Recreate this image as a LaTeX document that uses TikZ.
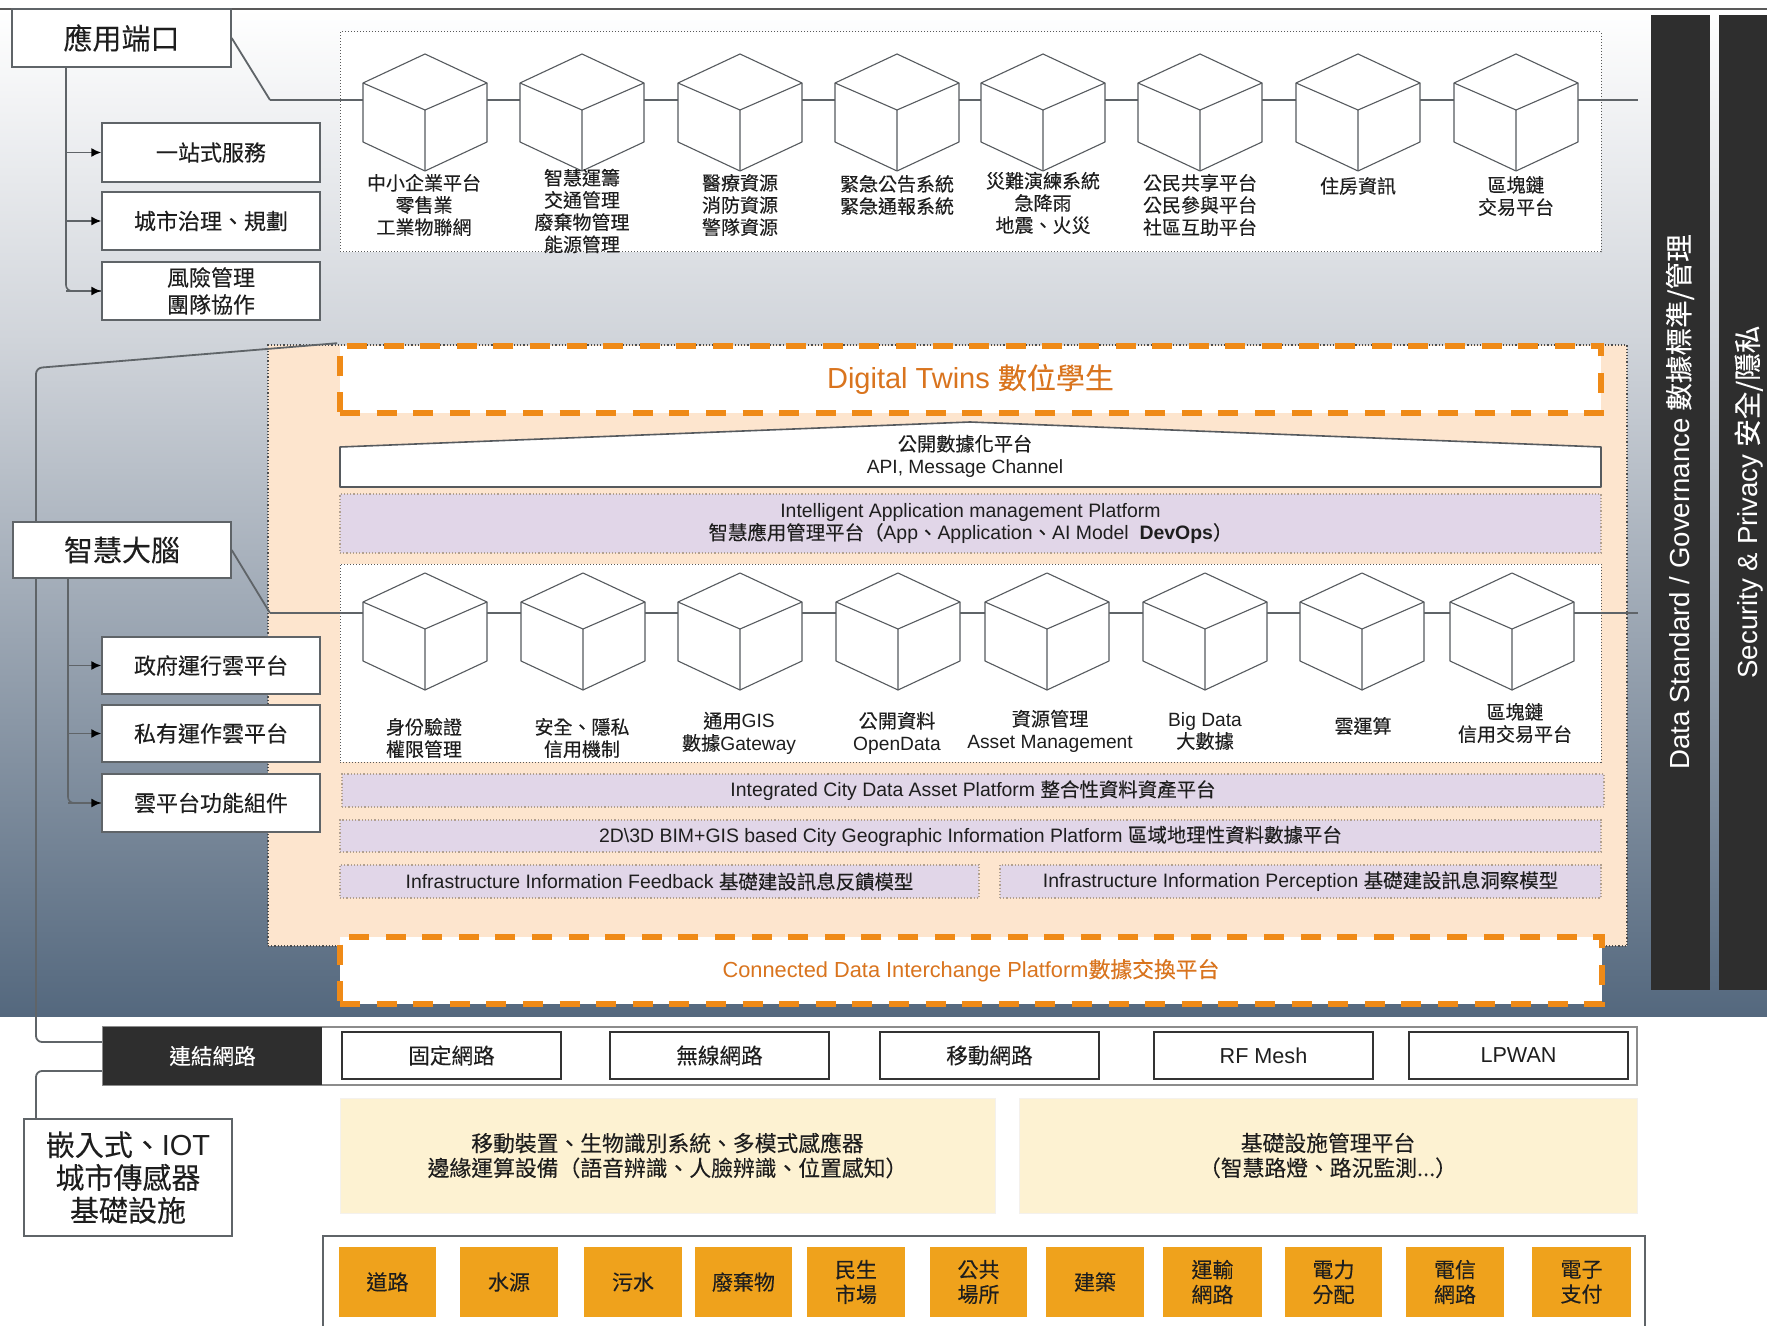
\documentclass[tikz,border=0pt]{standalone}
\usepackage{fontspec}
\setmainfont{Liberation Sans}
\newfontfamily\zhf[FakeBold=0.12]{Noto Sans CJK TC}
\newcommand\zh[1]{{\zhf #1}}
\usetikzlibrary{arrows.meta}
\definecolor{panelor}{HTML}{FDE5CE}
\definecolor{dashor}{HTML}{EF8A17}
\definecolor{txtor}{HTML}{D9741E}
\definecolor{lilac}{HTML}{E1D6E8}
\definecolor{cream}{HTML}{FDF2D2}
\definecolor{darkbar}{HTML}{2E2E2E}
\definecolor{infor}{HTML}{EFA21C}
\definecolor{linegr}{HTML}{5F6468}
\definecolor{ink}{HTML}{1E1E1E}
\tikzset{
  x=0.5pt,y=-0.5pt,
  lab/.style={text=ink,align=center,font=\zhf\fontsize{9.5}{11.1}\selectfont,inner sep=0pt},
  mixlab/.style={text=ink,align=center,font=\fontsize{9.6}{11.1}\selectfont,inner sep=0pt},
  wbox/.style={draw=linegr,line width=0.7pt,fill=white,text=ink,align=center},
  sidebox/.style={wbox,font=\zhf\fontsize{11}{13.5}\selectfont},
  headbox/.style={wbox,font=\zhf\fontsize{14.5}{16.4}\selectfont},
  netbox/.style={draw=black!80,line width=0.6pt,fill=white,text=ink,font=\fontsize{10.8}{12.5}\selectfont},
  dotbox/.style={draw=black!65,line width=0.5pt,densely dotted,fill=white},
  lilacbox/.style={fill=lilac,draw=black!30!panelor,line width=0.6pt,densely dotted,text=ink,align=center,font=\fontsize{9.72}{11.2}\selectfont},
  orbox/.style={fill=white,draw=dashor,line width=2.8pt,dash pattern=on 10pt off 8.3pt,text=txtor,align=center},
  creambox/.style={fill=cream,draw=panelor!80!black!20,line width=0.4pt,text=ink,align=center,font=\zhf\fontsize{10.9}{12.4}\selectfont},
  infbox/.style={fill=infor,text=ink,align=center,font=\zhf\fontsize{10.5}{12.4}\selectfont},
  barbox/.style={fill=darkbar,text=white},
  conn/.style={draw=linegr,line width=1.1pt,rounded corners=3pt},
  branch/.style={draw=linegr,line width=0.8pt,rounded corners=2pt,-{Latex[length=5pt,width=4.5pt,black]}},
  cubeline/.style={draw=linegr!90!black,line width=0.55pt,line join=round},
}
\newcommand\pxbox[7]{%
  \pgfmathsetmacro\pxw{(#5-#3)*0.5}%
  \pgfmathsetmacro\pxh{(#6-#4)*0.5}%
  \pgfmathsetmacro\pxcx{(#3+#5)/2}%
  \pgfmathsetmacro\pxcy{(#4+#6)/2}%
  \node[#2,minimum width=\pxw pt,minimum height=\pxh pt,inner sep=0pt] (#1) at (\pxcx,\pxcy) {#7};}
\newcommand\cubeat[2]{%
  \begin{scope}[shift={(#1,#2)}]
    \draw[cubeline,fill=white] (0,0) -- (62,29) -- (62,88) -- (0,117) -- (-62,88) -- (-62,29) -- cycle;
    \draw[cubeline] (-62,29) -- (0,56) -- (62,29) (0,56) -- (0,117);
  \end{scope}}
\begin{document}
\begin{tikzpicture}
\useasboundingbox (0,0) rectangle (1767,1326);
\fill[white] (0,0) rectangle (1767,1326);
% background
\shade[top color=white,bottom color={rgb,255:red,208;green,212;blue,218}] (0,9) rectangle (1767,341);
\shade[top color={rgb,255:red,208;green,212;blue,218},bottom color={rgb,255:red,84;green,104;blue,126}] (0,340) rectangle (1767,1016);
\draw[black!65,line width=0.8pt] (0,9) -- (1767,9);

% top application panel
\pxbox{toppanel}{dotbox}{340}{32}{1601}{252}{}
% big panel
\pxbox{midpanel}{draw=black!70,line width=0.6pt,densely dotted,fill=panelor}{268}{345}{1627}{946}{}

% side bars
\pxbox{barA}{barbox}{1651}{15}{1710}{990}{}
\pxbox{barB}{barbox}{1719}{15}{1770}{990}{}
\node[text=white,rotate=90,font=\fontsize{13.8}{16}\selectfont,inner sep=0pt] (barAt) at (1680,502) {Data Standard / Governance \zh{數據標準/管理}};
\node[text=white,rotate=90,font=\fontsize{13.8}{16}\selectfont,inner sep=0pt] (barBt) at (1749,502) {Security \& Privacy \zh{安全/隱私}};

% named anchors for the two cube rows
\foreach \n/\x in {1/425,2/582,3/740,4/897,5/1043,6/1200,7/1358,8/1516} {\coordinate (u\n) at (\x,100);}
\foreach \n/\x in {1/425,2/583,3/740,4/898,5/1047,6/1205,7/1362,8/1512} {\coordinate (v\n) at (\x,613);}
\coordinate (uend) at (1638,100);
\coordinate (vend) at (1638,613);
\coordinate (ubend) at (270,100);
\coordinate (vbend) at (270,613);
\coordinate (loopA) at (36,368);
\coordinate (loopB) at (36,1042);
\coordinate (netA) at (103,1042);
\coordinate (loopC) at (36,1071);
\coordinate (netB) at (103,1071);

% white and lilac bars
\pxbox{dt}{orbox,font=\fontsize{14.5}{17}\selectfont}{340}{346}{1601}{413}{\raisebox{-1pt}{Digital Twins \zh{數位學生}}}
\draw[cubeline,fill=white,line width=0.8pt] (340,447) -- (970,422) -- (1601,447) -- (1601,487) -- (340,487) -- cycle;
\node[mixlab] (api) at (965,456) {\zh{公開數據化平台}\\API, Message Channel};
\pxbox{iamp}{lilacbox}{340}{494}{1601}{553}{Intelligent Application management Platform\\\zh{智慧應用管理平台（}App\zh{、}Application\zh{、}AI Model\ \ \textbf{DevOps}\zh{）}}
\pxbox{botpanel}{dotbox}{340}{564}{1601}{762}{}
\pxbox{icda}{lilacbox}{342}{774}{1604}{807}{Integrated City Data Asset Platform \zh{整合性資料資產平台}}
\pxbox{bim}{lilacbox}{340}{820}{1601}{852}{2D\textbackslash3D BIM+GIS based City Geographic Information Platform \zh{區域地理性資料數據平台}}
\pxbox{feed}{lilacbox}{340}{865}{979}{898}{Infrastructure Information Feedback \zh{基礎建設訊息反饋模型}}
\pxbox{perc}{lilacbox}{1000}{865}{1601}{898}{Infrastructure Information Perception \zh{基礎建設訊息洞察模型}}
\pxbox{cdip}{orbox,font=\fontsize{10.9}{13}\selectfont}{340}{937}{1602}{1004}{Connected Data Interchange Platform\zh{數據交換平台}}

% connectors
\path[conn] (ubend) -- (u1) -- (u2) -- (u3) -- (u4) -- (u5) -- (u6) -- (u7) -- (u8) -- (uend);
\path[conn] (vbend) -- (v1) -- (v2) -- (v3) -- (v4) -- (v5) -- (v6) -- (v7) -- (v8) -- (vend);

% cubes
\foreach \x in {425,582,740,897,1043,1200,1358,1516} {\cubeat{\x}{54}}
\foreach \x in {425,583,740,898,1047,1205,1362,1512} {\cubeat{\x}{573}}

% cube labels, top row
\node[lab] (lu1) at (424,205) {中小企業平台\\零售業\\工業物聯網};
\node[lab] (lu2) at (582,211) {智慧運籌\\交通管理\\廢棄物管理\\能源管理};
\node[lab] (lu3) at (740,205) {醫療資源\\消防資源\\警隊資源};
\node[lab] (lu4) at (897,195) {緊急公告系統\\緊急通報系統};
\node[lab] (lu5) at (1043,203) {災難演練系統\\急降雨\\地震、火災};
\node[lab] (lu6) at (1200,205) {公民共享平台\\公民參與平台\\社區互助平台};
\node[lab] (lu7) at (1358,186) {住房資訊};
\node[lab] (lu8) at (1516,196) {區塊鏈\\交易平台};
% cube labels, bottom row
\node[lab] (lv1) at (424,738) {身份驗證\\權限管理};
\node[lab] (lv2) at (582,738) {安全、隱私\\信用機制};
\node[mixlab] (lv3) at (739,733) {\zh{通用}GIS\\\zh{數據}Gateway};
\node[mixlab] (lv4) at (897,733) {\zh{公開資料}\\OpenData};
\node[mixlab] (lv5) at (1050,731) {\zh{資源管理}\\Asset Management};
\node[mixlab] (lv6) at (1205,731) {Big Data\\\zh{大數據}};
\node[lab] (lv7) at (1363,726) {雲運算};
\node[lab] (lv8) at (1515,723) {區塊鏈\\信用交易平台};

% left side: connectors then boxes
\path[conn,line width=0.9pt] (dt.north west) -- (loopA) -- (loopB) -- (netA);
\path[conn,line width=0.9pt] (netB) -- (loopC) -- (36,1119);
\pxbox{app}{headbox}{12}{9}{231}{67}{應用端口}
\pxbox{brain}{headbox}{13}{522}{231}{578}{智慧大腦}
\path[conn,line width=0.9pt] (app.east) -- (ubend);
\path[conn,line width=0.9pt] (brain.east) -- (vbend);
\coordinate (appdrop) at (66,67);
\coordinate (braindrop) at (68,578);
\pxbox{s1}{sidebox}{102}{123}{320}{182}{一站式服務}
\pxbox{s2}{sidebox}{102}{192}{320}{250}{城市治理、規劃}
\pxbox{s3}{sidebox}{102}{262}{320}{320}{風險管理\\團隊協作}
\pxbox{g1}{sidebox}{102}{637}{320}{694}{政府運行雲平台}
\pxbox{g2}{sidebox}{102}{705}{320}{762}{私有運作雲平台}
\pxbox{g3}{sidebox}{102}{774}{320}{832}{雲平台功能組件}
\draw[conn,line width=0.8pt] (appdrop) |- (s3.west);
\path[branch] (appdrop |- s1.west) -- (s1.west);
\path[branch] (appdrop |- s2.west) -- (s2.west);
\path[branch] (appdrop |- s3.west) -- (s3.west);
\draw[conn,line width=0.8pt] (braindrop) |- (g3.west);
\path[branch] (braindrop |- g1.west) -- (g1.west);
\path[branch] (braindrop |- g2.west) -- (g2.west);
\path[branch] (braindrop |- g3.west) -- (g3.west);

% network row
\pxbox{netframe}{draw=black!45,line width=0.9pt,fill=white}{103}{1027}{1637}{1085}{}
\pxbox{net}{fill=darkbar,text=white,font=\zhf\fontsize{10.8}{12}\selectfont}{103}{1027}{322}{1085}{連結網路}
\pxbox{n1}{netbox}{342}{1032}{561}{1079}{\zh{固定網路}}
\pxbox{n2}{netbox}{610}{1032}{829}{1079}{\zh{無線網路}}
\pxbox{n3}{netbox}{880}{1032}{1099}{1079}{\zh{移動網路}}
\pxbox{n4}{netbox}{1154}{1032}{1373}{1079}{RF Mesh}
\pxbox{n5}{netbox}{1409}{1032}{1628}{1079}{LPWAN}

% cream boxes
\pxbox{y1}{creambox}{340}{1098}{995}{1213}{移動裝置、生物識別系統、多模式感應器\\邊緣運算設備（語音辨識、人臉辨識、位置感知）}
\pxbox{y2}{creambox}{1019}{1098}{1637}{1213}{基礎設施管理平台\\（智慧路燈、路況監測...）}

% iot box
\pxbox{iot}{wbox,font=\fontsize{14.5}{16.4}\selectfont}{24}{1119}{232}{1236}{\zh{嵌入式、}IOT\\\zh{城市傳感器}\\\zh{基礎設施}}

% infrastructure frame, open at the bottom edge
\draw[linegr,line width=0.9pt] (323,1326) -- (323,1236) -- (1645,1236) -- (1645,1326);
\pxbox{o1}{infbox}{339}{1247}{436}{1317}{道路}
\pxbox{o2}{infbox}{460}{1247}{558}{1317}{水源}
\pxbox{o3}{infbox}{584}{1247}{682}{1317}{污水}
\pxbox{o4}{infbox}{695}{1247}{792}{1317}{廢棄物}
\pxbox{o5}{infbox}{807}{1247}{905}{1317}{民生\\市場}
\pxbox{o6}{infbox}{930}{1247}{1027}{1317}{公共\\場所}
\pxbox{o7}{infbox}{1046}{1247}{1144}{1317}{建築}
\pxbox{o8}{infbox}{1163}{1247}{1262}{1317}{運輸\\網路}
\pxbox{o9}{infbox}{1285}{1247}{1382}{1317}{電力\\分配}
\pxbox{o10}{infbox}{1406}{1247}{1504}{1317}{電信\\網路}
\pxbox{o11}{infbox}{1532}{1247}{1631}{1317}{電子\\支付}
\end{tikzpicture}
\end{document}
